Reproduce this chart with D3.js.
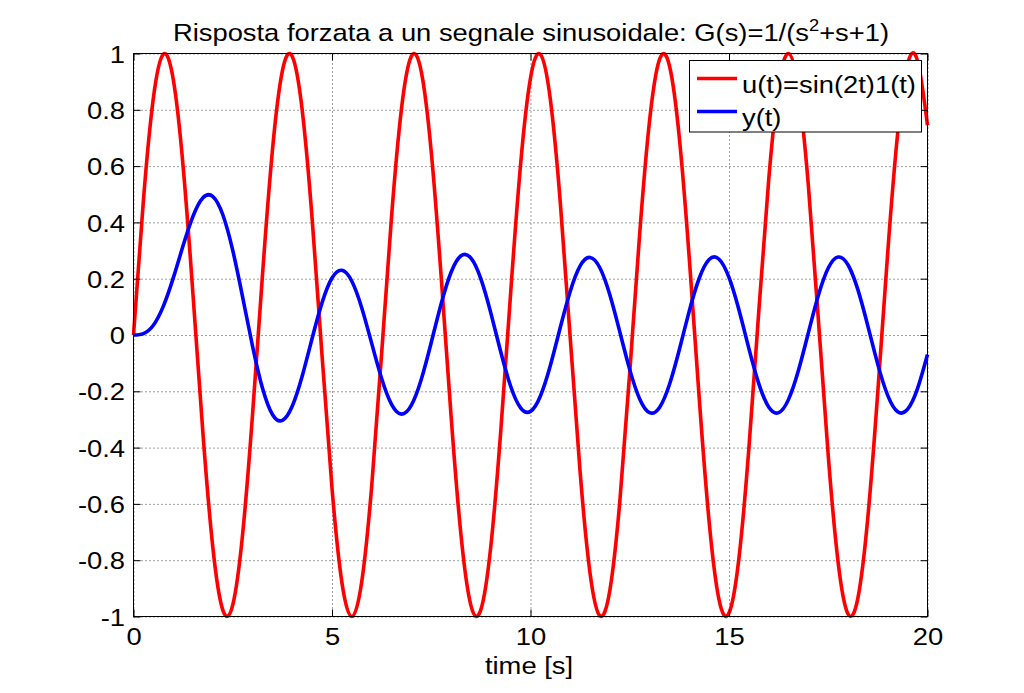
<!DOCTYPE html>
<html>
<head>
<meta charset="utf-8">
<script src="https://cdn.jsdelivr.net/npm/d3@7"></script>
<style>
  html, body { margin: 0; padding: 0; background: #fff; }
  svg { display: block; }
  text { font-family: "Liberation Sans", Arial, Helvetica, sans-serif; fill: #000; }
</style>
</head>
<body>
<svg id="chart" width="1024" height="693"></svg>
<script>
// ---- data ----
const timeValues = [
  0, 0.25, 0.5, 0.75, 1, 1.25, 1.5, 1.75, 2, 2.25,
  2.5, 2.75, 3, 3.25, 3.5, 3.75, 4, 4.25, 4.5, 4.75,
  5, 5.25, 5.5, 5.75, 6, 6.25, 6.5, 6.75, 7, 7.25,
  7.5, 7.75, 8, 8.25, 8.5, 8.75, 9, 9.25, 9.5, 9.75,
  10, 10.25, 10.5, 10.75, 11, 11.25, 11.5, 11.75, 12, 12.25,
  12.5, 12.75, 13, 13.25, 13.5, 13.75, 14, 14.25, 14.5, 14.75,
  15, 15.25, 15.5, 15.75, 16, 16.25, 16.5, 16.75, 17, 17.25,
  17.5, 17.75, 18, 18.25, 18.5, 18.75, 19, 19.25, 19.5, 19.75,
  20
];
const inputValues = [
  0, 0.4794, 0.8415, 0.9975, 0.9093, 0.5985, 0.1411, -0.3508, -0.7568, -0.9775,
  -0.9589, -0.7055, -0.2794, 0.2151, 0.6570, 0.9380, 0.9894, 0.7985, 0.4121, -0.0752,
  -0.5440, -0.8797, -1.0000, -0.8755, -0.5366, -0.0663, 0.4202, 0.8038, 0.9906, 0.9349,
  0.6503, 0.2065, -0.2879, -0.7118, -0.9614, -0.9756, -0.7510, -0.3425, 0.1499, 0.6055,
  0.9129, 0.9968, 0.8367, 0.4716, -0.0089, -0.4872, -0.8462, -0.9981, -0.9056, -0.5914,
  -0.1324, 0.3591, 0.7626, 0.9792, 0.9564, 0.6992, 0.2709, -0.2238, -0.6636, -0.9411,
  -0.9880, -0.7933, -0.4040, 0.0840, 0.5514, 0.8840, 0.9999, 0.8709, 0.5291, 0.0575,
  -0.4282, -0.8090, -0.9918, -0.9320, -0.6435, -0.1978, 0.2964, 0.7179, 0.9638, 0.9737,
  0.7451
];
const outputValues = [
  0.0000, 0.0049, 0.0346, 0.1016, 0.2019, 0.3177, 0.4222, 0.4873, 0.4919, 0.4272,
  0.3005, 0.1339, -0.0408, -0.1893, -0.2823, -0.3034, -0.2523, -0.1456, -0.0116, 0.1150,
  0.2025, 0.2299, 0.1909, 0.0962, -0.0298, -0.1547, -0.2465, -0.2812, -0.2492, -0.1571,
  -0.0266, 0.1112, 0.2229, 0.2815, 0.2731, 0.1995, 0.0787, -0.0597, -0.1821, -0.2589,
  -0.2714, -0.2167, -0.1085, 0.0264, 0.1545, 0.2452, 0.2755, 0.2382, 0.1421, 0.0110,
  -0.1230, -0.2273, -0.2760, -0.2573, -0.1758, -0.0514, 0.0856, 0.2016, 0.2682, 0.2692,
  0.2043, 0.0894, -0.0475, -0.1727, -0.2556, -0.2760, -0.2287, -0.1254, 0.0085, 0.1403,
  0.2378, 0.2771, 0.2486, 0.1593, 0.0307, -0.1052, -0.2153, -0.2727, -0.2634, -0.1896,
  -0.0693
];
const seriesNames = ["u(t)=sin(2t)1(t)", "y(t)"];
const seriesColors = ["#ff0000", "#0000ff"];
const xTicks = [0, 5, 10, 15, 20];
const xTickLabels = ["0", "5", "10", "15", "20"];
const yTicks = [-1, -0.8, -0.6, -0.4, -0.2, 0, 0.2, 0.4, 0.6, 0.8, 1];
const yTickLabels = ["-1", "-0.8", "-0.6", "-0.4", "-0.2", "0", "0.2", "0.4", "0.6", "0.8", "1"];
const titleMain = "Risposta forzata a un segnale sinusoidale: G(s)=1/(s";
const titleSup = "2";
const titleEnd = "+s+1)";
const xLabel = "time [s]";

// ---- layout ----
const L = 133.5, R = 927.5, T = 53.5, B = 616.5;
const SX = 1.14;          // horizontal stretch of the text in the reference
const FS = 24;
const LW = 3.6;

const svg = d3.select("#chart");
svg.append("rect").attr("width", 1024).attr("height", 693).attr("fill", "#fff");

const x = d3.scaleLinear().domain([0, 20]).range([L, R]);
const y = d3.scaleLinear().domain([-1, 1]).range([B, T]);

// grid
const grid = svg.append("g").attr("class", "grid");
grid.append("g").attr("transform", `translate(0,${B})`)
  .call(d3.axisBottom(x).tickValues(xTicks).tickSize(-(B - T)).tickFormat(""))
  .call(g => g.select(".domain").remove());
grid.append("g").attr("transform", `translate(${L},0)`)
  .call(d3.axisLeft(y).tickValues(yTicks).tickSize(-(R - L)).tickFormat(""))
  .call(g => g.select(".domain").remove());
grid.selectAll("line").attr("stroke", "#000").attr("stroke-width", 1)
  .attr("stroke-dasharray", "1,3").attr("opacity", 0.75);

// curves
const rows = timeValues.map((t, i) => ({ t, u: inputValues[i], y: outputValues[i] }));
const lineU = d3.line().x(d => x(d.t)).y(d => y(d.u)).curve(d3.curveNatural);
const lineY = d3.line().x(d => x(d.t)).y(d => y(d.y)).curve(d3.curveNatural);
svg.append("path").datum(rows).attr("d", lineU).attr("fill", "none")
  .attr("stroke", seriesColors[0]).attr("stroke-width", LW).attr("stroke-linejoin", "round");
svg.append("path").datum(rows).attr("d", lineY).attr("fill", "none")
  .attr("stroke", seriesColors[1]).attr("stroke-width", LW).attr("stroke-linejoin", "round");

// box
svg.append("rect").attr("x", L).attr("y", T).attr("width", R - L).attr("height", B - T)
  .attr("fill", "none").attr("stroke", "#000").attr("stroke-width", 1);

// axes with inward ticks
const TK = 7;
const axB = svg.append("g").attr("transform", `translate(0,${B})`)
  .call(d3.axisBottom(x).tickValues(xTicks).tickFormat((d, i) => xTickLabels[i])
    .tickSize(-TK).tickSizeOuter(0));
axB.selectAll("text").attr("y", 29).attr("dy", null)
  .attr("transform", `scale(${SX},1)`);
const axT = svg.append("g").attr("transform", `translate(0,${T})`)
  .call(d3.axisTop(x).tickValues(xTicks).tickFormat("").tickSize(-TK).tickSizeOuter(0));
const axL = svg.append("g").attr("transform", `translate(${L},0)`)
  .call(d3.axisLeft(y).tickValues(yTicks).tickFormat((d, i) => yTickLabels[i])
    .tickSize(-TK).tickSizeOuter(0));
axL.selectAll("text").attr("x", -8.5 / SX).attr("dy", "0.36em")
  .attr("transform", `scale(${SX},1)`);
const axR = svg.append("g").attr("transform", `translate(${R},0)`)
  .call(d3.axisRight(y).tickValues(yTicks).tickFormat("").tickSize(-TK).tickSizeOuter(0));
[axB, axT, axL, axR].forEach(g => {
  g.select(".domain").remove();
  g.selectAll("line").attr("stroke", "#000").attr("stroke-width", 1);
  g.selectAll("text").attr("font-size", FS).attr("font-family", null).attr("fill", "#000");
});

// legend
const leg = svg.append("g");
leg.append("rect").attr("x", 689.5).attr("y", 60.5).attr("width", 232).attr("height", 71.5)
  .attr("fill", "#fff").attr("stroke", "#000").attr("stroke-width", 1);
seriesNames.forEach((name, i) => {
  const ly = 78.5 + i * 33;
  leg.append("line").attr("x1", 697).attr("x2", 737).attr("y1", ly).attr("y2", ly)
    .attr("stroke", seriesColors[i]).attr("stroke-width", LW);
  leg.append("text").attr("transform", `translate(742,${ly + 14.5}) scale(${SX},1)`)
    .attr("font-size", FS).text(name);
});

// title
const title = svg.append("text")
  .attr("transform", `translate(531,40.5) scale(${SX},1)`)
  .attr("text-anchor", "middle").attr("font-size", FS);
title.append("tspan").text(titleMain);
title.append("tspan").attr("font-size", 16).attr("dy", -10).text(titleSup);
title.append("tspan").attr("dy", 10).text(titleEnd);

// x label
svg.append("text").attr("transform", `translate(529,673.5) scale(${SX},1)`)
  .attr("text-anchor", "middle").attr("font-size", FS).text(xLabel);
</script>
</body>
</html>
